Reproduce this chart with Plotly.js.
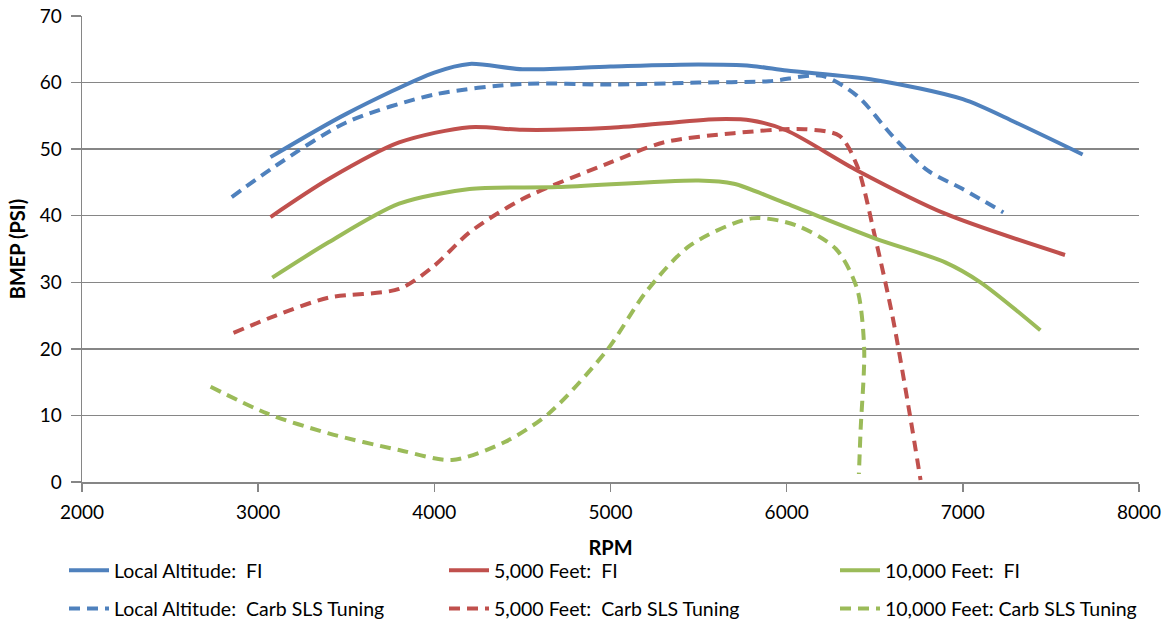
<!DOCTYPE html>
<html>
<head>
<meta charset="utf-8">
<script src="https://cdn.plot.ly/plotly-3.0.1.min.js"></script>
<style>html,body{margin:0;padding:0;background:#fff;}#chart{width:1172px;height:621px;}</style>
</head>
<body>
<div id="chart"></div>
<script>
// Local Altitude: FI
const localFI_rpm = [3070, 3500, 4000, 4200, 4500, 5000, 5500, 5800, 6000, 6500, 7000, 7300, 7680];
const localFI_bmep = [48.8, 55.3, 61.5, 62.8, 62.0, 62.4, 62.7, 62.5, 61.8, 60.4, 57.5, 54.0, 49.2];
// 5,000 Feet: FI
const ft5FI_rpm = [3070, 3400, 3800, 4200, 4500, 5000, 5600, 5800, 6000, 6400, 6900, 7580];
const ft5FI_bmep = [39.8, 45.5, 51.0, 53.3, 52.9, 53.2, 54.5, 54.3, 52.8, 46.8, 40.3, 34.1];
// 10,000 Feet: FI
const ft10FI_rpm = [3080, 3400, 3800, 4200, 4700, 5500, 5700, 6000, 6500, 6900, 7100, 7440];
const ft10FI_bmep = [30.7, 36.0, 41.8, 44.0, 44.3, 45.3, 44.8, 41.8, 36.6, 33.0, 30.0, 22.8];
// Local Altitude: Carb SLS Tuning
const localCarb_rpm = [2850, 3100, 3500, 4000, 4500, 5000, 5500, 5900, 6200, 6400, 6600, 6800, 7000, 7230];
const localCarb_bmep = [42.8, 47.5, 54.0, 58.2, 59.8, 59.7, 60.0, 60.2, 61.0, 58.0, 52.0, 46.8, 44.0, 40.5];
// 5,000 Feet: Carb SLS Tuning
const ft5Carb_rpm = [2860, 3100, 3400, 3800, 4000, 4200, 4500, 5000, 5300, 5700, 6100, 6300, 6400, 6500, 6600, 6700, 6760];
const ft5Carb_bmep = [22.4, 25.0, 27.7, 29.0, 32.5, 37.5, 42.5, 48.0, 51.0, 52.4, 53.0, 52.0, 47.5, 37.0, 25.0, 10.0, 0.3];
// 10,000 Feet: Carb SLS Tuning
const ft10Carb_rpm = [2730, 3050, 3400, 3800, 4100, 4400, 4650, 4980, 5200, 5450, 5800, 6050, 6280, 6400, 6440, 6420, 6410];
const ft10Carb_bmep = [14.3, 10.3, 7.3, 4.8, 3.3, 6.0, 10.3, 19.8, 28.5, 35.5, 39.6, 38.6, 35.0, 29.0, 20.0, 8.0, 1.2];

const names = ["Local Altitude:  FI", "5,000 Feet:  FI", "10,000 Feet:  FI",
  "Local Altitude:  Carb SLS Tuning", "5,000 Feet:  Carb SLS Tuning", "10,000 Feet: Carb SLS Tuning"];

const BLUE = "#4F81BD", RED = "#C0504D", GREEN = "#9BBB59";
const DASH = "11px,7px";

function tr(x, y, name, color, dashed, legend, group) {
  return {
    x: x, y: y, name: name, type: "scatter", mode: "lines",
    line: {color: color, width: 4, shape: "spline", smoothing: 0.8, dash: dashed ? DASH : "solid"},
    legend: legend, legendgroup: group, hoverinfo: "skip"
  };
}

const data = [
  tr(localFI_rpm, localFI_bmep, names[0], BLUE, false, "legend", "a"),
  tr(localCarb_rpm, localCarb_bmep, names[3], BLUE, true, "legend", "b"),
  tr(ft5FI_rpm, ft5FI_bmep, names[1], RED, false, "legend2", "c"),
  tr(ft5Carb_rpm, ft5Carb_bmep, names[4], RED, true, "legend2", "d"),
  tr(ft10FI_rpm, ft10FI_bmep, names[2], GREEN, false, "legend3", "e"),
  tr(ft10Carb_rpm, ft10Carb_bmep, names[5], GREEN, true, "legend3", "f")
];

const FONT = "Lato, 'Liberation Sans', sans-serif";
const LEG_Y = -0.148;
function leg(xpx) {
  return {
    orientation: "v", x: (xpx - 82) / 1057, xanchor: "left", y: LEG_Y, yanchor: "top",
    bgcolor: "rgba(0,0,0,0)", tracegroupgap: 10, traceorder: "grouped",
    font: {family: FONT, size: 19.5, color: "#000"}, itemwidth: 40
  };
}

const layout = {
  width: 1172, height: 621,
  margin: {l: 82, r: 33, t: 16, b: 139, autoexpand: false},
  paper_bgcolor: "#fff", plot_bgcolor: "#fff",
  font: {family: FONT, size: 19, color: "#000"},
  showlegend: true,
  legend: leg(64),
  legend2: leg(444),
  legend3: leg(835),
  xaxis: {
    range: [2000, 8000], dtick: 1000, tick0: 2000,
    showgrid: false, zeroline: false,
    showline: true, linecolor: "#868686", linewidth: 1.5,
    ticks: "outside", ticklen: 8, tickcolor: "#868686", tickwidth: 1.5,
    ticklabelstandoff: 5,
    tickfont: {family: FONT, size: 19, color: "#000"},
    title: {text: "<b>RPM</b>", font: {family: FONT, size: 20, color: "#000"}, standoff: 18}
  },
  yaxis: {
    range: [0, 70], dtick: 10, tick0: 0,
    showgrid: true, gridcolor: "#868686", gridwidth: 1.5, zeroline: false,
    showline: true, linecolor: "#868686", linewidth: 1.5,
    ticks: "outside", ticklen: 10, tickcolor: "#868686", tickwidth: 1.5,
    ticklabelstandoff: 5,
    tickfont: {family: FONT, size: 19, color: "#000"},
    title: {text: "<b>BMEP (PSI)</b>", font: {family: FONT, size: 20, color: "#000"}, standoff: 8}
  }
};

Plotly.newPlot("chart", data, layout, {staticPlot: true, displayModeBar: false});
</script>
</body>
</html>
